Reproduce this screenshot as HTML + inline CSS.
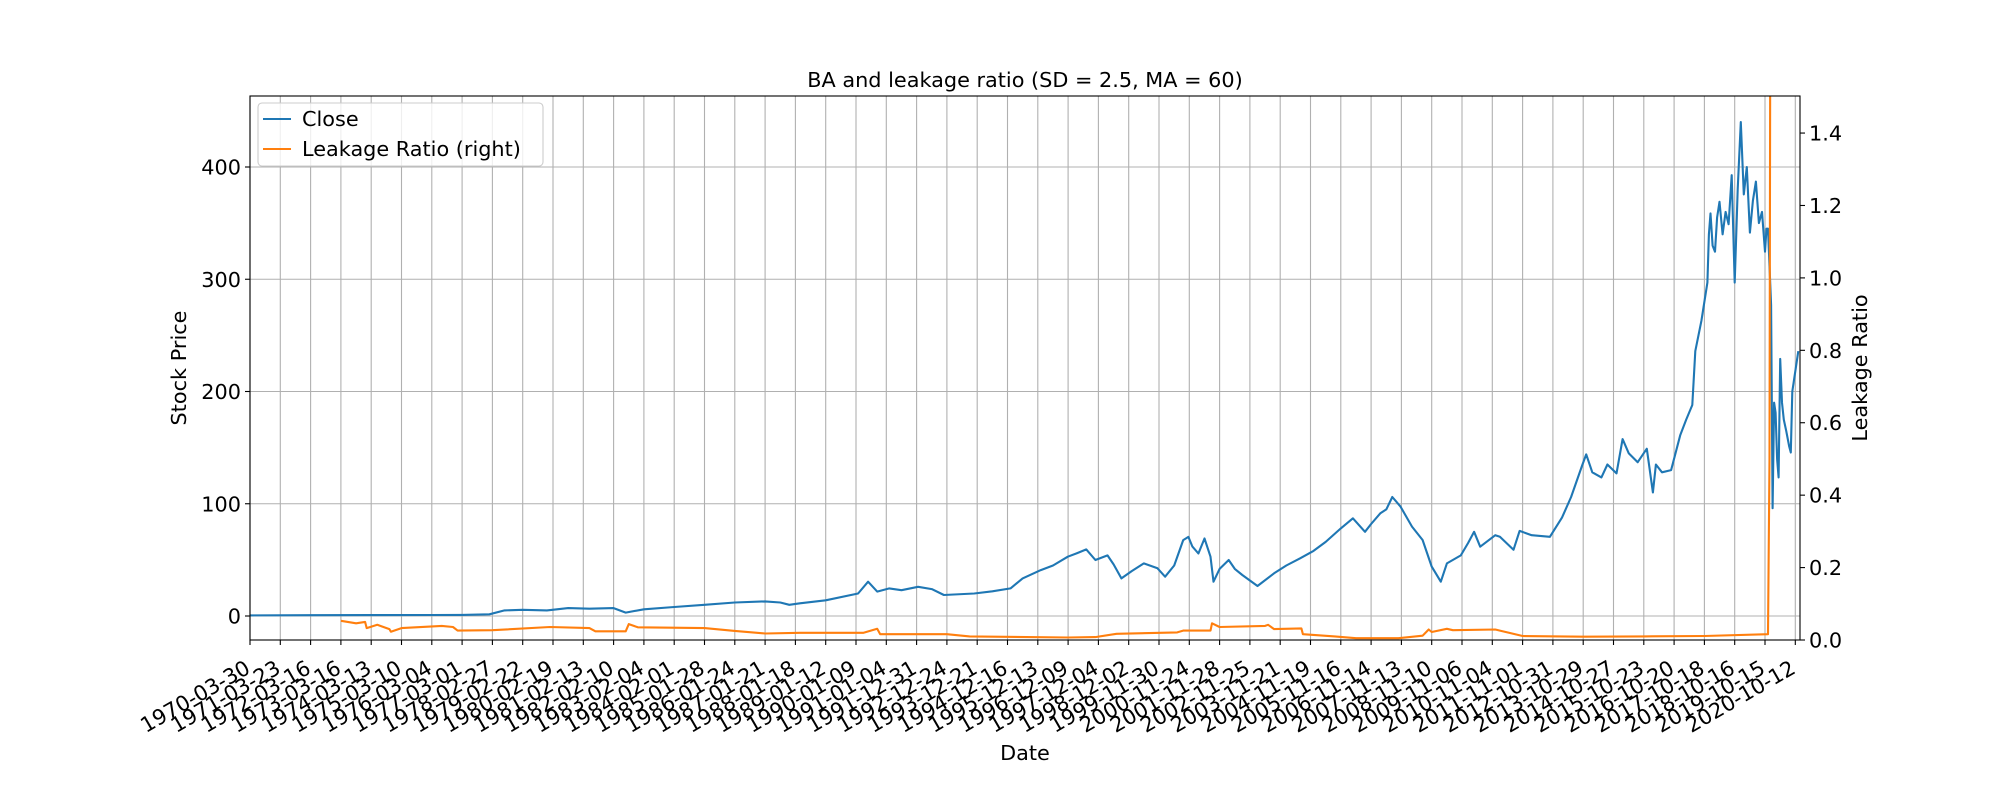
<!DOCTYPE html>
<html><head><meta charset="utf-8"><style>
html,body{margin:0;padding:0;background:#fff;}
svg{display:block;font-family:"DejaVu Sans","Liberation Sans",sans-serif;}
</style></head><body>
<svg id="chart" width="2000" height="800" viewBox="0 0 2000 800" xmlns="http://www.w3.org/2000/svg">
<defs><clipPath id="plotclip"><rect x="250" y="96" width="1550" height="544"/></clipPath></defs>
<rect x="0" y="0" width="2000" height="800" fill="#fff"/>
<g id="grid"></g>
<g id="series" clip-path="url(#plotclip)"></g>
<rect x="250" y="96" width="1550" height="544" fill="none" stroke="#000" stroke-width="1.1"/>
<g id="axes"></g>
<text x="1025" y="87" text-anchor="middle" font-size="20.8">BA and leakage ratio (SD = 2.5, MA = 60)</text>
<text x="1025" y="760" text-anchor="middle" font-size="20.8">Date</text>
<text transform="translate(186,368) rotate(-90)" text-anchor="middle" font-size="20.8">Stock Price</text>
<text transform="translate(1867,368) rotate(-90)" text-anchor="middle" font-size="20.8">Leakage Ratio</text>
<g>
<rect x="258" y="103" width="285" height="63" rx="4" fill="#fff" fill-opacity="0.8" stroke="#ccc" stroke-width="1.1"/>
<line x1="263" y1="119" x2="291" y2="119" stroke="#1f77b4" stroke-width="2.1"/>
<text x="302" y="126" font-size="20.8">Close</text>
<line x1="263" y1="149" x2="291" y2="149" stroke="#ff7f0e" stroke-width="2.1"/>
<text x="302" y="156" font-size="20.8">Leakage Ratio (right)</text>
</g>
</svg>
<script>
const xLabels = ["1970-03-30","1971-03-23","1972-03-16","1973-03-16","1974-03-13","1975-03-10","1976-03-04","1977-03-01","1978-02-27","1979-02-22","1980-02-19","1981-02-13","1982-02-10","1983-02-04","1984-02-01","1985-01-28","1986-01-24","1987-01-21","1988-01-18","1989-01-12","1990-01-09","1991-01-04","1991-12-31","1992-12-24","1993-12-21","1994-12-16","1995-12-13","1996-12-09","1997-12-04","1998-12-02","1999-11-30","2000-11-24","2001-11-28","2002-11-25","2003-11-21","2004-11-19","2005-11-16","2006-11-14","2007-11-13","2008-11-10","2009-11-06","2010-11-04","2011-11-01","2012-10-31","2013-10-29","2014-10-27","2015-10-23","2016-10-20","2017-10-18","2018-10-16","2019-10-15","2020-10-12"];
const leftTicks = [0,100,200,300,400];
const rightTicks = [0.0,0.2,0.4,0.6,0.8,1.0,1.2,1.4];
const rightTickLabels = ["0.0","0.2","0.4","0.6","0.8","1.0","1.2","1.4"];
const closeT = [0,2,4,6,7,7.9,8.4,9,9.8,10.5,11.2,12,12.4,13,14,15,16,17,17.5,17.8,18.15,19,20.07,20.4,20.7,21.1,21.5,22.05,22.5,22.9,23.9,24.5,25.1,25.5,26.1,26.5,26.99,27.3,27.6,27.9,28.3,28.5,28.76,29.1,29.5,29.95,30.2,30.5,30.8,30.97,31.1,31.3,31.5,31.7,31.8,32.0,32.3,32.5,32.75,33.25,33.8,34.2,34.65,35.1,35.5,36.0,36.4,36.8,37.0,37.3,37.5,37.7,37.97,38.35,38.7,39.0,39.3,39.5,39.96,40.2,40.4,40.6,41.1,41.25,41.7,41.9,42.3,42.9,43.3,43.6,43.96,44.1,44.3,44.6,44.8,45.1,45.3,45.5,45.8,46.1,46.3,46.4,46.6,46.9,47.2,47.4,47.6,47.7,47.9,48.1,48.15,48.2,48.27,48.35,48.42,48.5,48.6,48.7,48.8,48.9,49.0,49.1,49.2,49.3,49.4,49.5,49.6,49.7,49.8,49.9,50.0,50.05,50.1,50.2,50.25,50.3,50.35,50.4,50.45,50.5,50.56,50.62,50.7,50.8,50.85,50.9,51.1];
const closeV = [0.5,0.7,0.8,0.9,1,1.5,5,5.5,5,7,6.5,7,3,6,8,10,12,13,12,10,11.3,14,20,30.6,21.7,24.6,23,26,24,18.7,20,22,24.6,33.5,40.9,45,52.8,56,59.3,49.9,54,46,33.5,40,46.9,42.5,35,45,67.6,70.5,62,55.7,69,52.8,30.6,42,49.9,42,36.5,26.7,38,45,51.3,58,66,78,87,75,82,91.4,95,106,97.5,79.6,67.7,44,30.6,46.9,54,65,75,61.7,72,70.6,59,75.8,72,70.6,87.7,106,133.7,144,128,123.5,135,127,157.6,145,137,149,110,135,128,130,161,175,188,236,263,297,340,358.7,330,324.5,355,369,340,360,349,392.7,297,380,440,375.6,400,341.6,370,387,350,360,324.5,345,345,277,96,190,181,140,123.5,229,190,175,165,151,145.7,200,236,232];
const leakT = [3.0,3.5,3.8,3.85,4.2,4.6,4.65,5.0,6.33,6.7,6.85,8.0,9.9,11.2,11.4,12.4,12.5,12.8,15,16,17,18.15,20.25,20.7,20.8,23.0,23.75,27,27.9,28.6,30.6,30.8,31.7,31.75,32,33.5,33.6,33.8,34.7,34.75,35.8,36.5,37.9,38.7,38.9,39.0,39.5,39.7,41.1,41.25,41.6,42.0,44,46,48,50.1,50.15,50.2];
const leakV = [0.053,0.046,0.05,0.033,0.042,0.03,0.023,0.033,0.039,0.036,0.026,0.027,0.036,0.033,0.024,0.024,0.044,0.035,0.033,0.025,0.018,0.02,0.02,0.031,0.016,0.016,0.01,0.007,0.008,0.017,0.021,0.026,0.026,0.046,0.036,0.039,0.042,0.03,0.032,0.016,0.01,0.005,0.005,0.012,0.029,0.022,0.031,0.027,0.029,0.026,0.019,0.011,0.009,0.01,0.011,0.016,0.5,3.0];

const X0=250,X1=1800,Y0=96,Y1=640,STEP=30.3;
function xs(t){return X0+t*STEP;}
function yl(p){return 616-p*1.1225;}
function yr(v){return 640-v*362.1;}
const NS="http://www.w3.org/2000/svg";
function mk(tag,attrs,parent){const e=document.createElementNS(NS,tag);for(const k in attrs)e.setAttribute(k,attrs[k]);parent.appendChild(e);return e;}
const grid=document.getElementById('grid'),axes=document.getElementById('axes'),series=document.getElementById('series');
xLabels.forEach((lab,i)=>{
  const x=xs(i);
  const g=mk('line',{x1:x,y1:Y0,x2:x,y2:Y1,stroke:'#b0b0b0','stroke-width':1.1},grid);
  
  
  const tk=mk('line',{x1:x,y1:Y1,x2:x,y2:Y1+5,stroke:'#000','stroke-width':1.1},axes);
  
  
  const tx=mk('text',{transform:`translate(${x-6},${659}) rotate(-30)`,'text-anchor':'end','dominant-baseline':'hanging','font-size':21},axes);
  tx.textContent=lab;
  
  
});
leftTicks.forEach(v=>{
  const y=yl(v);
  const g=mk('line',{x1:X0,y1:y,x2:X1,y2:y,stroke:'#b0b0b0','stroke-width':1.1},grid);
  
  
  const tk=mk('line',{x1:X0-5,y1:y,x2:X0,y2:y,stroke:'#000','stroke-width':1.1},axes);
  
  
  const tx=mk('text',{x:X0-9,y:y+7.5,'text-anchor':'end','font-size':20.8},axes);
  tx.textContent=String(v);
  
  
});
rightTicks.forEach((v,i)=>{
  const y=yr(v);
  const tk=mk('line',{x1:X1,y1:y,x2:X1+5,y2:y,stroke:'#000','stroke-width':1.1},axes);
  
  
  const tx=mk('text',{x:X1+9,y:y+7.5,'text-anchor':'start','font-size':20.8},axes);
  tx.textContent=rightTickLabels[i];
  
  
});
const cp=closeT.map((t,i)=>`${xs(t).toFixed(1)},${yl(closeV[i]).toFixed(1)}`).join(' ');
const cl=mk('polyline',{points:cp,fill:'none',stroke:'#1f77b4','stroke-width':2.1,'stroke-linejoin':'round'},series);


const lp=leakT.map((t,i)=>`${xs(t).toFixed(1)},${yr(leakV[i]).toFixed(1)}`).join(' ');
const ll=mk('polyline',{points:lp,fill:'none',stroke:'#ff7f0e','stroke-width':2.1,'stroke-linejoin':'round'},series);


</script>
</body></html>
